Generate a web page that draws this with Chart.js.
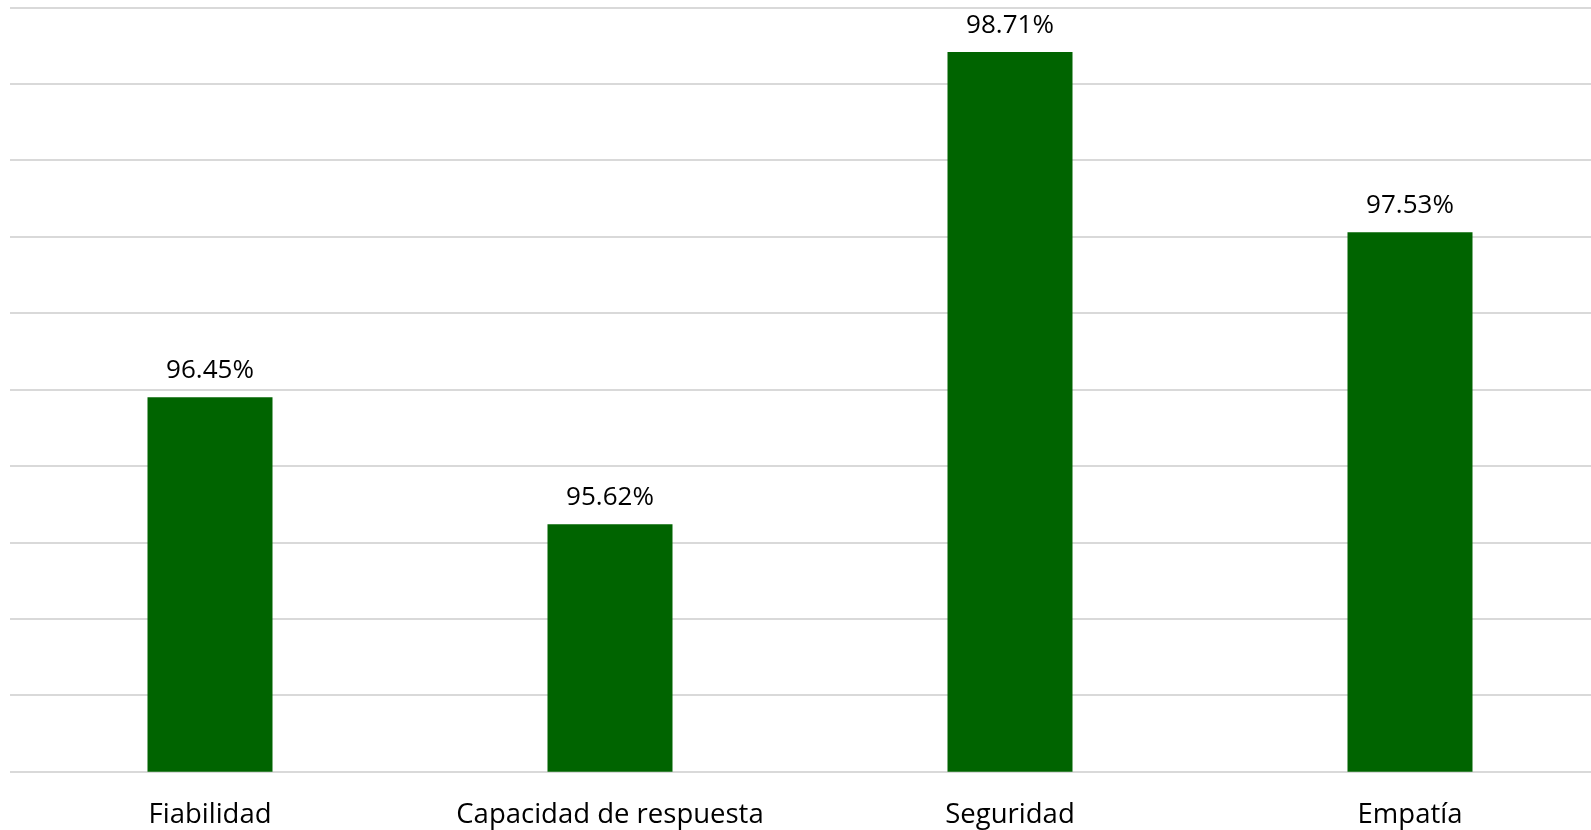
<!DOCTYPE html>
<html>
<head>
<meta charset="utf-8">
<script src="https://cdn.jsdelivr.net/npm/chart.js@4"></script>
<style>
  html, body { margin: 0; padding: 0; background: #fff; overflow: hidden; }
  body { width: 1591px; height: 830px; }
  /* the original chart runs past the right edge of the picture, so the canvas is wider than the page */
  #wrap { width: 1612px; height: 830px; }
</style>
</head>
<body>
<div id="wrap"><canvas id="barChart"></canvas></div>
<script>
// -------------------- Data --------------------
const categories = ['Fiabilidad', 'Capacidad de respuesta', 'Seguridad', 'Empatía'];
const values = [96.45, 95.62, 98.71, 97.53];
const yMin = 94;
const yMax = 99;
const yStep = 0.5;

const fontFamily = "'Open Sans', 'Noto Sans', sans-serif";

// -------------------- Value labels above bars + category labels --------------------
const textLabels = {
  id: 'textLabels',
  afterDatasetsDraw(chart) {
    const ctx = chart.ctx;
    const meta = chart.getDatasetMeta(0);
    const xScale = chart.scales.x;
    ctx.save();
    ctx.fillStyle = '#000';
    ctx.textAlign = 'center';
    ctx.textBaseline = 'alphabetic';

    ctx.font = '26px ' + fontFamily;
    meta.data.forEach((bar, i) => {
      ctx.fillText(values[i].toFixed(2) + '%', bar.x, bar.y - 19);
    });

    ctx.font = '27.5px ' + fontFamily;
    categories.forEach((cat, i) => {
      ctx.fillText(cat, xScale.getPixelForValue(i), chart.chartArea.bottom + 51.5);
    });
    ctx.restore();
  }
};

const ctx = document.getElementById('barChart').getContext('2d');
const chart = new Chart(ctx, {
  type: 'bar',
  data: {
    labels: categories,
    datasets: [{
      data: values,
      backgroundColor: '#006400',
      categoryPercentage: 1,
      barPercentage: 0.3125,
    }]
  },
  options: {
    responsive: true,
    maintainAspectRatio: false,
    animation: false,
    layout: { padding: { left: 10, right: 2, top: 7.7, bottom: 58.3 } },
    plugins: {
      legend: { display: false },
      tooltip: { enabled: false },
    },
    scales: {
      x: {
        display: false,
      },
      y: {
        min: yMin,
        max: yMax,
        ticks: { display: false, stepSize: yStep },
        grid: { color: '#d9d9d9', lineWidth: 2, drawTicks: false },
        border: { display: false },
      }
    }
  },
  plugins: [textLabels]
});
</script>
</body>
</html>
